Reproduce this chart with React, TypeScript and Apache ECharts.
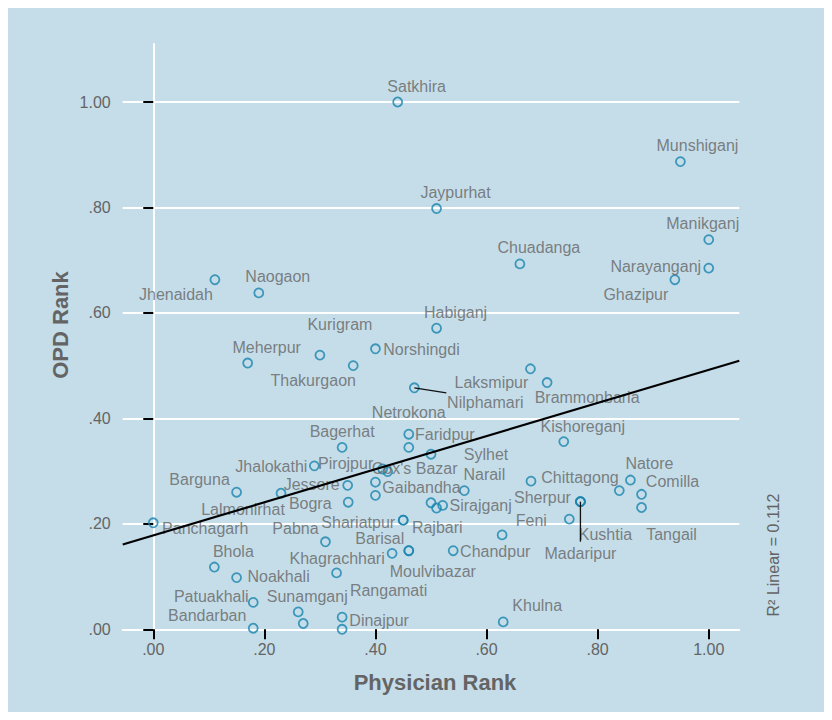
import React, { useEffect, useRef } from 'react';
import * as echarts from 'echarts';

const DISTRICTS = [
  'Satkhira', 'Munshiganj', 'Jaypurhat', 'Manikganj', 'Chuadanga', 'Narayanganj', 'Ghazipur', 'Jhenaidah',
  'Naogaon', 'Habiganj', 'Kurigram', 'Norshingdi', 'Meherpur', 'Thakurgaon', 'Laksmipur', 'Brammonbaria',
  'Nilphamari', 'Netrokona', 'Faridpur', 'Bagerhat', 'Kishoreganj', 'Sylhet', 'Narail', 'Jhalokathi',
  'Pirojpur', "Cox's Bazar", 'Gaibandha', 'Barguna', 'Jessore', 'Lalmonirhat', 'Bogra', 'Chittagong',
  'Natore', 'Comilla', 'Tangail', 'Sherpur', 'Kushtia', 'Madaripur', 'Feni', 'Sirajganj',
  'Panchagarh', 'Shariatpur', 'Rajbari', 'Pabna', 'Barisal', 'Khagrachhari', 'Moulvibazar', 'Chandpur',
  'Bhola', 'Noakhali', 'Rangamati', 'Patuakhali', 'Sunamganj', 'Bandarban', 'Dinajpur', 'Khulna',
];
const PHYSICIAN_RANK = [
  0.440, 0.949, 0.510, 1.000, 0.660, 1.000, 0.939, 0.111,
  0.190, 0.510, 0.300, 0.400, 0.170, 0.360, 0.679, 0.709,
  0.470, 0.460, 0.460, 0.340, 0.739, 0.500, 0.560, 0.290,
  0.413, 0.422, 0.400, 0.150, 0.350, 0.230, 0.351, 0.680,
  0.859, 0.879, 0.879, 0.769, 0.769, 0.769, 0.749, 0.521,
  0.000, 0.450, 0.450, 0.310, 0.460, 0.430, 0.460, 0.540,
  0.110, 0.150, 0.330, 0.180, 0.261, 0.180, 0.340, 0.630,
];
const OPD_RANK = [
  1.000, 0.887, 0.798, 0.739, 0.693, 0.685, 0.663, 0.663,
  0.638, 0.571, 0.520, 0.532, 0.505, 0.500, 0.494, 0.468,
  0.458, 0.370, 0.345, 0.345, 0.356, 0.332, 0.263, 0.310,
  0.304, 0.299, 0.279, 0.260, 0.273, 0.258, 0.241, 0.281,
  0.283, 0.256, 0.231, 0.242, 0.242, 0.242, 0.209, 0.235,
  0.202, 0.207, 0.207, 0.166, 0.149, 0.144, 0.149, 0.149,
  0.118, 0.098, 0.107, 0.051, 0.033, 0.002, 0.023, 0.014,
];
// points whose labels are hidden in the original
const UNLABELED_PHYSICIAN = [0.270, 0.340, 0.628, 0.500, 0.510, 0.400, 0.839];
const UNLABELED_OPD = [0.011, 0.000, 0.179, 0.240, 0.230, 0.254, 0.263];

const X_TICKS = [0, 0.2, 0.4, 0.6, 0.8, 1.0];
const Y_TICKS = [0, 0.2, 0.4, 0.6, 0.8, 1.0];
const X_RANGE = [-0.055, 1.055];
const Y_RANGE = [0, 1.11];

const FIT_INTERCEPT = 0.178;
const FIT_SLOPE = 0.314;
const R_SQUARED = 0.112;

// label placement (pixel offsets of label centre from the marker)
const LABEL_OFFSETS: Record<string, [number, number]> = {
  Satkhira: [19, -16], Munshiganj: [17, -16], Jaypurhat: [19, -16], Manikganj: [-6, -16],
  Chuadanga: [19, -16], Narayanganj: [-53, -2], Ghazipur: [-39, 15], Jhenaidah: [-39, 15],
  Naogaon: [19, -16], Habiganj: [19, -16], Kurigram: [20, -31], Norshingdi: [46, 1],
  Meherpur: [19, -16], Thakurgaon: [-40, 15], Laksmipur: [-39, 14], Brammonbaria: [40, 15],
  Nilphamari: [71, 15], Netrokona: [0, -22], Faridpur: [36, -13], Bagerhat: [0, -16],
  Kishoreganj: [19, -15], Sylhet: [55, 0], Narail: [20, -16], Jhalokathi: [-43, 1],
  Pirojpur: [-37, -6], "Cox's Bazar": [27, -3], Gaibandha: [46, 5], Barguna: [-37, -13],
  Jessore: [-36, -1], Lalmonirhat: [-38, 16], Bogra: [-38, 1], Chittagong: [49, -4],
  Natore: [19, -17], Comilla: [31, -13], Tangail: [30, 27], Sherpur: [-38, -4],
  Kushtia: [25, 33], Madaripur: [0, 52], Feni: [-38, 1], Sirajganj: [38, 0],
  Panchagarh: [52, 6], Shariatpur: [-45, 2], Rajbari: [34, 7], Pabna: [-30, -13],
  Barisal: [-29, -12], Khagrachhari: [-55, 5], Moulvibazar: [24, 21], Chandpur: [42, 1],
  Bhola: [19, -16], Noakhali: [42, -1], Rangamati: [52, 18], Patuakhali: [-42, -6],
  Sunamganj: [9, -15], Bandarban: [-46, -13], Dinajpur: [37, 3], Khulna: [34, -16],
};
// leader lines (pixel end offsets from the marker)
const LEADERS: Record<string, [number, number]> = {
  Nilphamari: [32, 5],
  Madaripur: [0, 40],
};

const FONT = '"Liberation Sans", Arial, sans-serif';
const TEXT_COLOR = '#646464';
const MARKER_COLOR = '#1a84ae';
const BG = '#c4dde9';

const fmt = (v: number) => {
  const s = v.toFixed(2);
  return s.startsWith('0') ? s.slice(1) : s;
};

export default function App() {
  const ref = useRef<HTMLDivElement>(null);
  useEffect(() => {
    if (!ref.current) return;
    const chart = echarts.init(ref.current, null, { renderer: 'svg' });

    const labeled = DISTRICTS.map((name, i) => ({
      name,
      value: [PHYSICIAN_RANK[i], OPD_RANK[i]],
      label: { offset: LABEL_OFFSETS[name] || [0, -16] },
    }));
    const unlabeled = UNLABELED_PHYSICIAN.map((x, i) => ({
      name: '',
      value: [x, UNLABELED_OPD[i]],
      label: { show: false },
    }));
    const leaderData = Object.keys(LEADERS).map((name) => {
      const i = DISTRICTS.indexOf(name);
      return [PHYSICIAN_RANK[i], OPD_RANK[i], LEADERS[name][0], LEADERS[name][1]];
    });
    const fitData = X_RANGE.map((x) => [x, FIT_INTERCEPT + FIT_SLOPE * x]);

    chart.setOption({
      animation: false,
      backgroundColor: BG,
      textStyle: { fontFamily: FONT },
      grid: { left: 114.7, top: 36, width: 616.6, height: 585.3, containLabel: false },
      xAxis: {
        type: 'value',
        min: X_RANGE[0],
        max: X_RANGE[1],
        name: 'Physician Rank',
        nameLocation: 'middle',
        nameGap: 42,
        nameTextStyle: { fontSize: 22, fontWeight: 'bold', color: TEXT_COLOR, fontFamily: FONT, padding: [0, 0, 0, 8] },
        axisLine: { show: true, lineStyle: { color: '#ffffff', width: 2 } },
        axisTick: { show: true, length: 10, customValues: X_TICKS, lineStyle: { color: '#000', width: 2 } },
        axisLabel: { customValues: X_TICKS, formatter: fmt, fontSize: 16, color: TEXT_COLOR, fontFamily: FONT, margin: 12 },
        splitLine: { show: false },
      },
      yAxis: {
        type: 'value',
        min: Y_RANGE[0],
        max: Y_RANGE[1],
        axisLine: { show: true, lineStyle: { color: '#ffffff', width: 2 } },
        axisTick: { show: true, length: 10, customValues: Y_TICKS, lineStyle: { color: '#000', width: 2 } },
        axisLabel: { customValues: Y_TICKS, formatter: fmt, fontSize: 16, color: TEXT_COLOR, fontFamily: FONT, margin: 12 },
        splitLine: { show: true, lineStyle: { color: '#ffffff', width: 2 } },
      },
      graphic: [
        {
          type: 'text',
          x: 52,
          y: 317,
          rotation: Math.PI / 2,
          style: {
            text: 'OPD Rank',
            fontSize: 22,
            fontWeight: 'bold',
            fill: TEXT_COLOR,
            fontFamily: FONT,
            align: 'center',
            verticalAlign: 'middle',
          },
        },
        {
          type: 'text',
          x: 765,
          y: 547,
          rotation: Math.PI / 2,
          style: {
            text: `R\u00B2 Linear = ${R_SQUARED.toFixed(3)}`,
            fontSize: 16,
            fill: TEXT_COLOR,
            fontFamily: FONT,
            align: 'center',
            verticalAlign: 'middle',
          },
        },
      ],
      series: [
        {
          type: 'scatter',
          z: 3,
          symbol: 'circle',
          symbolSize: 9,
          itemStyle: { color: 'rgba(0,0,0,0)', borderColor: MARKER_COLOR, borderWidth: 1.8 },
          label: {
            show: true,
            position: 'inside',
            formatter: '{b}',
            fontSize: 16,
            color: TEXT_COLOR,
            fontFamily: FONT,
          },
          emphasis: { disabled: true },
          data: [...labeled, ...unlabeled],
        },
        {
          type: 'custom',
          z: 4,
          silent: true,
          renderItem: (_p: any, api: any) => {
            const p = api.coord([api.value(0), api.value(1)]);
            return {
              type: 'line',
              shape: { x1: p[0], y1: p[1], x2: p[0] + api.value(2), y2: p[1] + api.value(3) },
              style: { stroke: '#111', lineWidth: 1.3 },
            };
          },
          encode: { x: 0, y: 1 },
          data: leaderData,
        },
        {
          type: 'line',
          z: 6,
          symbol: 'none',
          silent: true,
          lineStyle: { color: '#000', width: 2.2 },
          data: fitData,
        },
      ],
    });
    return () => chart.dispose();
  }, []);
  return <div ref={ref} style={{ width: 816, height: 704 }} />;
}
